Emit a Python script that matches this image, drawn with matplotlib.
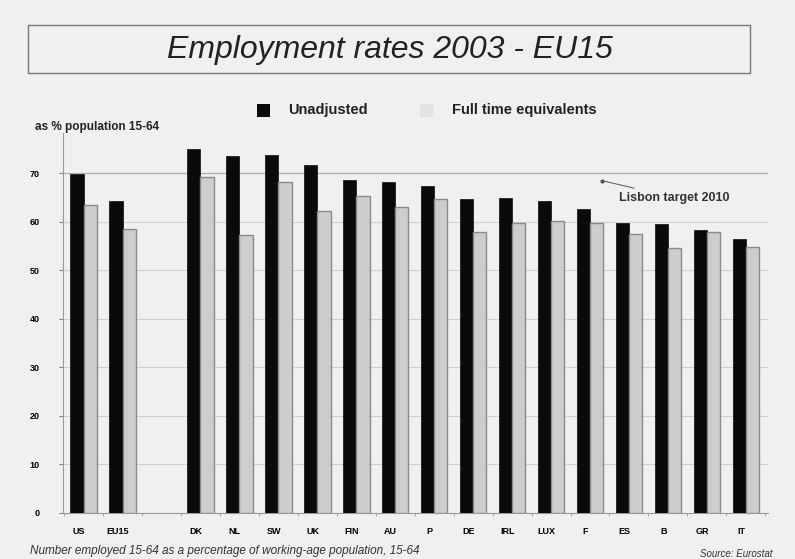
import matplotlib.pyplot as plt
import matplotlib.patches as patches
import numpy as np

plt.rcParams['font.family'] = ['Liberation Sans', 'DejaVu Sans']

# Data (employment rate, % of population 15-64)
countries = ["US", "EU15", "", "DK", "NL", "SW", "UK", "FIN", "AU", "P",
             "DE", "IRL", "LUX", "F", "ES", "B", "GR", "IT"]
unadjusted = [69.8, 64.2, None, 75.0, 73.6, 73.7, 71.8, 68.6, 68.2, 67.4,
              64.7, 65.0, 64.2, 62.7, 59.8, 59.5, 58.3, 56.4]
full_time_eq = [63.5, 58.5, None, 69.3, 57.2, 68.3, 62.2, 65.4, 63.0, 64.8,
                57.8, 59.7, 60.2, 59.7, 57.5, 54.7, 58.0, 54.8]
y_ticks = [0, 10, 20, 30, 40, 50, 60, 70]
lisbon_target = 70

bg = '#f0f0ee'
fig = plt.figure(figsize=(7.95, 5.59), dpi=100, facecolor=bg)
ax = fig.add_axes([63 / 795, 46 / 559, 705 / 795, 380 / 559], facecolor=bg)

x = np.arange(len(countries))
w = 0.34
idx = [i for i, v in enumerate(unadjusted) if v is not None]
ax.bar(x[idx] - w / 2, [unadjusted[i] for i in idx], width=w,
       color='#0a0a0a', edgecolor='#0a0a0a', linewidth=0.5, zorder=3)
ax.bar(x[idx] + w / 2, [full_time_eq[i] for i in idx], width=w,
       color='#cdcdcd', edgecolor='#8a8a8a', linewidth=1.0, zorder=3)

# Gridlines and Lisbon target
for y in y_ticks[1:]:
    ax.axhline(y, color='#cfcfcf', linewidth=0.8, zorder=1)
ax.axhline(lisbon_target, color='#b0b0b0', linewidth=0.9, zorder=1)
ax.annotate("Lisbon target 2010", xy=(13.3, lisbon_target - 1.5),
            xytext=(13.75, lisbon_target - 5), fontsize=9, fontweight='bold',
            color='#333333', va='center', ha='left',
            arrowprops=dict(arrowstyle='-', color='#555555', lw=0.7))
ax.plot(13.3, lisbon_target - 1.5, 'o', color='#555555', markersize=2)

ax.set_xlim(-0.53, 17.57)
ax.set_ylim(0, 78.3)
ax.set_yticks(y_ticks)
ax.set_yticklabels([str(v) for v in y_ticks], fontsize=6.5, fontweight='bold')
ax.set_xticks(x - 0.12)
ax.set_xticklabels(countries, fontsize=6.5, fontweight='bold')
ax.tick_params(axis='x', length=0, pad=10)
ax.tick_params(axis='y', length=3, width=0.7, color='#777777', pad=14)
ax.set_xticks(np.arange(len(countries) + 1) - 0.5, minor=True)
ax.tick_params(axis='x', which='minor', length=2, color='#999999')

for side in ['top', 'right']:
    ax.spines[side].set_visible(False)
ax.spines['left'].set_color('#999999')
ax.spines['bottom'].set_color('#999999')
ax.spines['left'].set_linewidth(0.8)
ax.spines['bottom'].set_linewidth(0.8)

# Title box
box = patches.Rectangle((28 / 795, 1 - 73 / 559), 722 / 795, 48 / 559,
                        transform=fig.transFigure, facecolor=bg,
                        edgecolor='#777777', linewidth=1.0)
fig.patches.append(box)
fig.text(390 / 795, 1 - 50 / 559, "Employment rates 2003 - EU15",
         ha='center', va='center', fontsize=23, style='italic', color='#222222')

# Legend
fig.patches.append(patches.Rectangle((257 / 795, 1 - 117 / 559), 13 / 795, 13 / 559,
                                     transform=fig.transFigure, facecolor='#0a0a0a'))
fig.text(288 / 795, 1 - 110 / 559, "Unadjusted", fontsize=10.5, fontweight='bold',
         va='center', color='#222222')
fig.patches.append(patches.Rectangle((420 / 795, 1 - 117 / 559), 13 / 795, 13 / 559,
                                     transform=fig.transFigure, facecolor='#e2e2e2'))
fig.text(452 / 795, 1 - 110 / 559, "Full time equivalents", fontsize=10.5,
         fontweight='bold', va='center', color='#222222')

fig.text(35 / 795, 1 - 127 / 559, "as % population 15-64", fontsize=8.5,
         fontweight='bold', va='center', color='#222222')

# Footnotes
fig.text(30 / 795, 1 - 551 / 559,
         "Number employed 15-64 as a percentage of working-age population, 15-64",
         fontsize=8.5, style='italic', va='center', color='#333333')
fig.text(700 / 795, 1 - 554 / 559, "Source: Eurostat", fontsize=7,
         style='italic', va='center', color='#333333')

fig.savefig("out.png", dpi=100, facecolor=bg)
